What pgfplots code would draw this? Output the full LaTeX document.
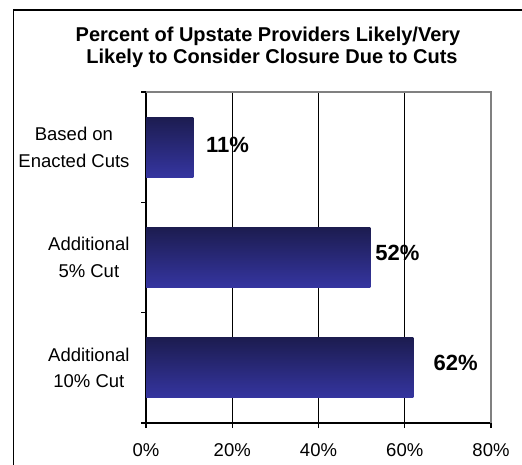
\documentclass[border=0pt]{standalone}
\usepackage{pgfplots}
\pgfplotsset{compat=1.18}
\usepackage{fontspec}
\setmainfont{Liberation Sans}
\definecolor{bartop}{HTML}{1C1C50}
\definecolor{barbot}{HTML}{3535A0}
\definecolor{framegray}{HTML}{808080}
\begin{document}
\begin{tikzpicture}
\useasboundingbox (0,0) rectangle (522bp,465bp);
\clip (0,0) rectangle (522bp,465bp);
\draw[black, line width=1.3bp] (13.5bp,-10bp) -- (13.5bp,455bp) -- (540bp,455bp);
\node[anchor=base, font=\bfseries\fontsize{20bp}{22bp}\selectfont] at (268bp,423bp) {Percent of Upstate Providers Likely/Very};
\node[anchor=base, font=\bfseries\fontsize{20bp}{22bp}\selectfont] at (272bp,401bp) {Likely to Consider Closure Due to Cuts};
\begin{axis}[
  at={(146bp,42bp)}, anchor=south west,
  scale only axis, width=345bp, height=331bp,
  xmin=0, xmax=80, ymin=-0.5, ymax=2.5,
  axis x line*=bottom, axis y line*=left,
  axis line style={black, line width=1.3bp},
  xtick={0,20,40,60,80},
  xticklabel={\pgfmathprintnumber{\tick}\%},
  ytick={0,1,2},
  yticklabels={{Additional\\10\% Cut},{Additional\\5\% Cut},{Based on\\Enacted Cuts}},
  minor ytick={-0.5,0.5,1.5,2.5},
  tick align=outside,
  major tick length=5bp, minor tick length=5bp,
  major y tick style={draw=none},
  minor y tick style={black, line width=1.3bp},
  major x tick style={black, line width=1.3bp},
  xmajorgrids=true,
  major grid style={black, line width=1bp},
  /pgf/number format/assume math mode=true,
  ticklabel style={font=\fontsize{18.5bp}{21bp}\selectfont},
  xticklabel style={yshift=-12bp},
  yticklabel style={align=center, xshift=-8bp, font=\fontsize{18.5bp}{26.5bp}\selectfont},
  clip=false,
]
\addplot[xbar, bar shift=0pt, bar width=0.545, draw=none, top color=bartop, bottom color=barbot]
  coordinates {(62,0)};
\addplot[xbar, bar shift=0pt, bar width=0.545, draw=none, top color=bartop, bottom color=barbot]
  coordinates {(52,1)};
\addplot[xbar, bar shift=0pt, bar width=0.545, draw=none, top color=bartop, bottom color=barbot]
  coordinates {(11,2)};
\addplot[draw=none, mark=none, nodes near coords, point meta=explicit symbolic,
  nodes near coords align={center},
  every node near coord/.append style={font=\bfseries\fontsize{22bp}{24bp}\selectfont, black}]
  coordinates {(18.9,2.02) [11\%] (58.3,1.045) [52\%] (71.8,0.045) [62\%]};
\draw[framegray, line width=1.2bp] (rel axis cs:0,1) -- (rel axis cs:1,1) -- (rel axis cs:1,0);
\end{axis}
\end{tikzpicture}
\end{document}
